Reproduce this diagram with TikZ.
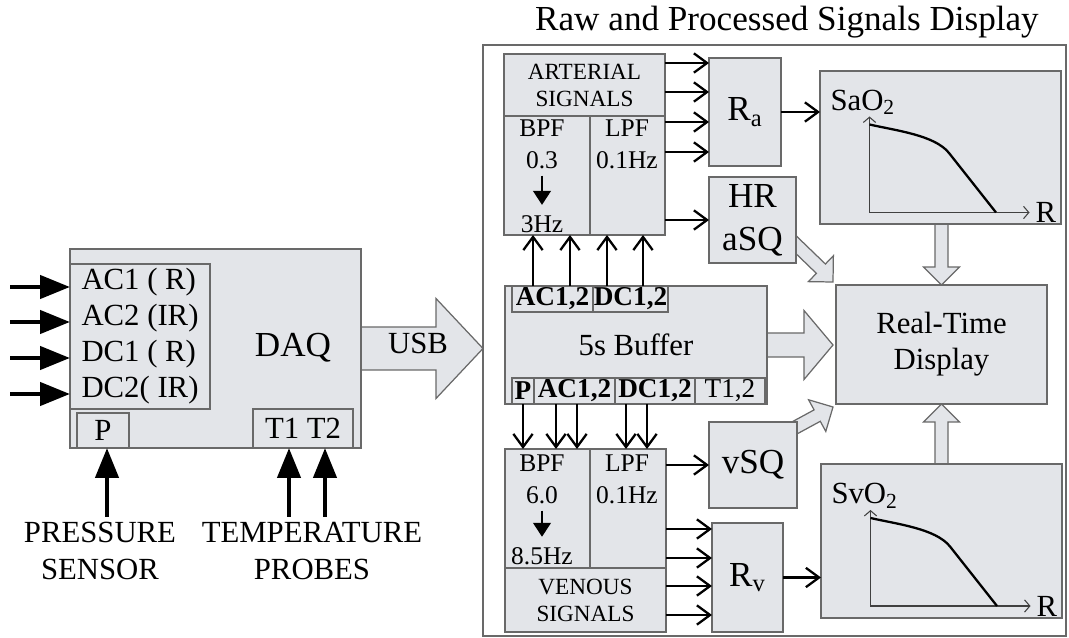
\documentclass[tikz,border=0pt]{standalone}
\usepackage{fontspec}
\setmainfont{Liberation Serif}
\usepackage{xcolor}
\usepackage{tikz}
\usetikzlibrary{calc}
\usetikzlibrary{positioning}
\usetikzlibrary{arrows.meta}
\usetikzlibrary{backgrounds}

\definecolor{boxfill}{RGB}{227,229,233}
\definecolor{boxline}{RGB}{105,105,105}

\newcommand{\fbig}{\fontsize{20}{24.5}\selectfont}
\newcommand{\fmid}{\fontsize{17.5}{20.5}\selectfont}
\newcommand{\fsub}{\fontsize{15.5}{17}\selectfont}
\newcommand{\ffilt}{\fontsize{14.5}{18.2}\selectfont}
\newcommand{\fsmall}{\fontsize{13.2}{15.4}\selectfont}

% hollow block arrow: tail, tip, shaft half width, head half width, head length
\newcommand{\blockarr}[5]{%
  \coordinate (ba-base) at ($(#2)!#5!(#1)$);
  \draw[hollow] ($(#1)!#3!90:(#2)$) -- ($(ba-base)!#3!-90:(#1)$)
    -- ($(ba-base)!#4!-90:(#1)$) -- (#2) -- ($(ba-base)!#4!90:(#1)$)
    -- ($(ba-base)!#3!90:(#1)$) -- ($(#1)!#3!-90:(#2)$) -- cycle;
}

\begin{document}
\begin{tikzpicture}[x=0.02cm,y=-0.02cm]
  \tikzset{every node/.style={inner sep=0pt,outer sep=0pt,align=center}};
  \tikzset{sz/.style 2 args={minimum width=#1*0.02cm,minimum height=#2*0.02cm},
    box/.style={draw=boxline,fill=boxfill,line width=0.7pt},
    sig/.style={-{Straight Barb[length=7.5pt,width=11pt]},line width=1.3pt},
    fat/.style={-{Triangle[length=17pt,width=13pt]},line width=2.6pt},
    drop/.style={-{Triangle[length=8pt,width=10pt]},line width=1.5pt},
    axis/.style={{Straight Barb[length=3pt,width=7pt]}-{Straight Barb[length=3pt,width=7pt]},draw=black!75,line width=0.6pt},
    curve/.style={line width=1.3pt},
    hollow/.style={draw=boxline,fill=boxfill,line width=0.7pt,line join=miter}};
  \useasboundingbox (0,0) rectangle (1069,638);

  % acquisition side
  \node [box, sz={291}{199}] (daq) at (215.5,348.5) {};
  \node [box, sz={140}{145}, align=left, font=\fmid] (chan) at (140,336.5) {AC1 ( R)\\AC2 (IR)\\DC1 ( R)\\DC2( IR)};
  \node [box, sz={52}{35}, font=\fmid] (pbox) at (103,430.5) {P};
  \node [box, sz={100}{39}, font=\fmid] (tbox) at (303,428.5) {T1 T2};
  \node [font=\fbig] (daqlbl) at (293,348) {DAQ};
  \node [font=\fontsize{17.5}{21}\selectfont] (psens) at (100,551) {PRESSURE\\SENSOR};
  \node [font=\fontsize{17.5}{21}\selectfont] (tprobe) at (312,551) {TEMPERATURE\\PROBES};
  \foreach \y in {287,322,358,394}
    \draw[fat] (chan.west |- 0,\y) ++(-60,0) -- (chan.west |- 0,\y);
  \draw[fat] (pbox.south) ++(4,69) -- ++(0,-69);
  \draw[fat] (tbox.south) ++(-14,69) -- ++(0,-69);
  \draw[fat] (tbox.south) ++(22,69) -- ++(0,-69);

  % processing panel
  \node [draw=boxline, line width=0.7pt, sz={583}{591}] (panel) at (774.5,340.5) {};
  \node [font=\fbig] (title) at (787,22) {Raw and Processed Signals Display};

  \node [box, sz={161}{62}, font=\fsmall] (artsig) at (584.5,85) {ARTERIAL\\SIGNALS};
  \node [box, sz={86}{119}] (abpf) at (547,175.5) {};
  \node [box, sz={75}{119}] (alpf) at (627.5,175.5) {};
  \node [font=\ffilt] (abpf-n) at (542,128) {BPF};
  \node [font=\ffilt] (abpf-lo) at (542,160) {0.3};
  \node [font=\ffilt] (abpf-hi) at (542,224) {3Hz};
  \node [font=\ffilt] (alpf-t) at (627,144) {LPF\\0.1Hz};
  \draw[drop, shorten <=4pt, shorten >=6pt] (abpf-lo.south) -- (abpf-hi.north);

  \node [box, sz={72}{108}, font=\fbig] (ra) at (745,112) {R\textsubscript{a}};
  \node [box, sz={87}{86}, font=\fbig] (hr) at (752.5,220) {HR\\aSQ};
  \node [box, sz={241}{153}] (sao) at (940.5,147.5) {};
  \node [box, sz={211}{119}, font=\fmid] (rtd) at (941.5,344.5) {Real-Time\\Display};

  \node [box, sz={262}{118}, font=\fmid] (buf) at (636,345) {5s Buffer};
  \node [box, sz={81}{26}, font=\fsub\bfseries] (bac) at (552.5,299) {AC1,2};
  \node [box, sz={75}{26}, font=\fsub\bfseries] (bdc) at (630.5,299) {DC1,2};
  \node [box, sz={22}{26}, font=\fsub\bfseries] (bp) at (523,391) {P};
  \node [box, sz={81}{26}, font=\fsub\bfseries] (bac2) at (574.5,391) {AC1,2};
  \node [box, sz={80}{26}, font=\fsub\bfseries] (bdc2) at (655,391) {DC1,2};
  \node [box, sz={70}{26}, font=\fsub] (bt) at (730,391) {T1,2};

  \node [box, sz={85}{119}] (vbpf) at (547.5,508.5) {};
  \node [box, sz={76}{119}] (vlpf) at (628,508.5) {};
  \node [box, sz={161}{64}, font=\fsmall] (vensig) at (585.5,600) {VENOUS\\SIGNALS};
  \node [font=\ffilt] (vbpf-n) at (542,463) {BPF};
  \node [font=\ffilt] (vbpf-lo) at (542,495) {6.0};
  \node [font=\ffilt] (vbpf-hi) at (542,556) {8.5Hz};
  \node [font=\ffilt] (vlpf-t) at (627,479) {LPF\\0.1Hz};
  \draw[drop, shorten <=4pt, shorten >=6pt] (vbpf-lo.south) -- (vbpf-hi.north);

  \node [box, sz={88}{86}, font=\fbig] (vsq) at (753,465) {vSQ};
  \node [box, sz={71}{109}, font=\fbig] (rv) at (747.5,577.5) {R\textsubscript{v}};
  \node [box, sz={241}{154}] (svo) at (941.5,541) {};

  % signal arrows
  \foreach \y in {63,92,122,152}
    \draw[sig] (artsig.east |- 0,\y) -- (ra.west |- 0,\y);
  \draw[sig] (alpf.east |- hr.west) -- (hr.west);
  \draw[sig] (ra.east) -- (ra.east -| sao.west);
  \foreach \x in {533,570,607,643}
    \draw[sig] (buf.north -| \x,0) -- (abpf.south -| \x,0);
  \foreach \x in {523,556,577,626,647}
    \draw[sig] (buf.south -| \x,0) -- (vbpf.north -| \x,0);
  \draw[sig] (vlpf.east |- vsq.west) -- (vsq.west);
  \foreach \y in {529,558,586,615}
    \draw[sig] (vlpf.east |- 0,\y) -- (rv.west |- 0,\y);
  \draw[sig] (rv.east) -- (rv.east -| svo.west);

  % saturation curves
  \foreach \p/\lt in {sao/a,svo/v}{
    \begin{scope}[shift={(\p.center)}]
      \node [anchor=west, font=\fmid] (\p-lbl) at (-110,-45) {S\lt O\textsubscript{2}};
      \coordinate (\p-o) at (-71,65);
      \draw[axis] (-71,-31) -- (\p-o) -- (89,65);
      \node [anchor=west, font=\fmid] (\p-r) at (95,65) {R};
      \draw[curve] (-71,-23) .. controls (-45,-17) and (-5.6,-12.4) .. (8.5,5.5) -- (55.5,65);
    \end{scope}
  }

  % hollow arrows
  \begin{scope}[on background layer]
    \coordinate (usbtip) at (daq.east -| panel.west);
    \blockarr{daq.east}{usbtip}{0.43cm}{1.0cm}{0.94cm}
    \coordinate (buftip) at ($(buf.east -| rtd.west)+(-3,0)$);
    \blockarr{buf.east}{buftip}{0.24cm}{0.69cm}{0.58cm}
    \coordinate (saotail) at (rtd.north |- sao.south);
    \blockarr{saotail}{rtd.north}{0.13cm}{0.36cm}{0.36cm}
    \coordinate (svotail) at (rtd.south |- svo.north);
    \blockarr{svotail}{rtd.south}{0.13cm}{0.36cm}{0.36cm}
    \coordinate (hrtail) at ($(hr.south east)+(-10,-28)$);
    \coordinate (hrtip) at ($(rtd.north west)+(-3,-3)$);
    \blockarr{hrtail}{hrtip}{0.13cm}{0.36cm}{0.36cm}
    \coordinate (vsqtail) at ($(vsq.north east)+(-10,10)$);
    \coordinate (vsqtip) at ($(rtd.south west)+(-3,3)$);
    \blockarr{vsqtail}{vsqtip}{0.13cm}{0.36cm}{0.36cm}
  \end{scope}
  \node [font=\fmid] (usb) at (418,343) {USB};
\end{tikzpicture}
\end{document}
